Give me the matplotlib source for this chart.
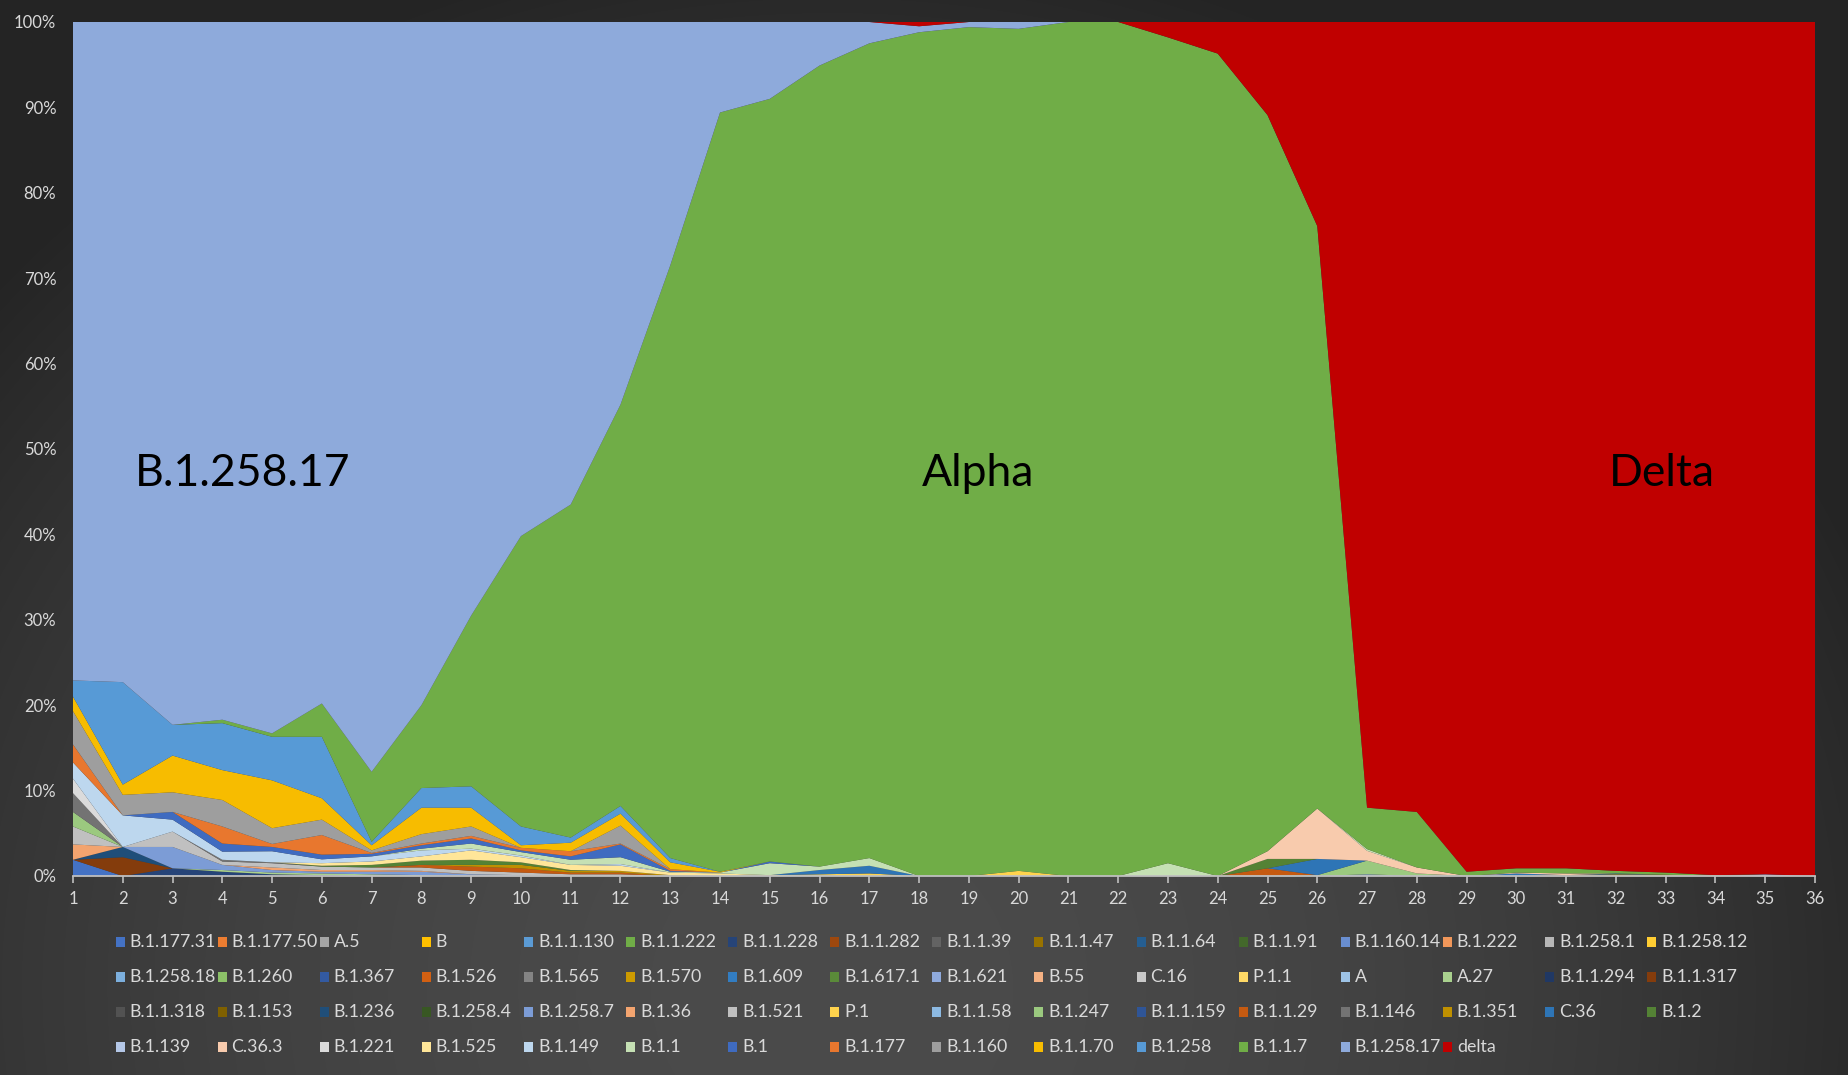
import numpy as np
import matplotlib
matplotlib.use("Agg")
import matplotlib.pyplot as plt
from matplotlib.patches import Rectangle

plt.rcParams['font.family'] = ['Lato', 'DejaVu Sans']

# ---------------- data (percent share per week) ----------------
weeks = list(range(1, 37))

B_1_177_31 = [1.9, 0, 0, 0, 0, 0, 0, 0, 0, 0,  0, 0, 0, 0, 0, 0, 0, 0, 0, 0,  0, 0, 0, 0, 0, 0, 0, 0, 0, 0,  0, 0, 0, 0, 0, 0]
B_1_177_50 = [0.0] * 36
A_5 = [0.0] * 36
B = [0.0] * 36
B_1_1_130 = [0.0] * 36
B_1_1_222 = [0.0] * 36
B_1_1_228 = [0, 0, 0.9, 0.5, 0.2, 0.1, 0, 0, 0, 0,  0, 0, 0, 0, 0, 0, 0, 0, 0, 0,  0, 0, 0, 0, 0, 0, 0, 0, 0, 0,  0, 0, 0, 0, 0, 0]
B_1_1_282 = [0.0] * 36
B_1_1_39 = [0.0] * 36
B_1_1_47 = [0.0] * 36
B_1_1_64 = [0.0] * 36
B_1_1_91 = [0.0] * 36
B_1_160_14 = [0.0] * 36
B_1_222 = [0.0] * 36
B_1_258_1 = [0.0] * 36
B_1_258_12 = [0.0] * 36
B_1_258_18 = [0.0] * 36
B_1_260 = [0.0] * 36
B_1_367 = [0.0] * 36
B_1_526 = [0.0] * 36
B_1_565 = [0.0] * 36
B_1_570 = [0.0] * 36
B_1_609 = [0.0] * 36
B_1_617_1 = [0.0] * 36
B_1_621 = [0, 0, 0, 0, 0, 0, 0, 0, 0, 0,  0, 0, 0, 0, 0, 0, 0, 0, 0, 0,  0, 0, 0, 0, 0, 0, 0, 0, 0, 0,  0, 0, 0, 0, 0.2, 0]
B_55 = [0.0] * 36
C_16 = [0.0] * 36
P_1_1 = [0.0] * 36
A = [0.0] * 36
A_27 = [0, 0, 0, 0.2, 0.2, 0.2, 0.2, 0.1, 0, 0,  0, 0, 0, 0, 0, 0, 0, 0, 0, 0,  0, 0, 0, 0, 0, 0, 0, 0, 0, 0,  0, 0, 0, 0, 0, 0]
B_1_1_294 = [0.0] * 36
B_1_1_317 = [0, 2.2, 0, 0, 0, 0, 0, 0, 0, 0,  0, 0, 0, 0, 0, 0, 0, 0, 0, 0,  0, 0, 0, 0, 0, 0, 0, 0, 0, 0,  0, 0, 0, 0, 0, 0]
B_1_1_318 = [0.0] * 36
B_1_153 = [0.0] * 36
B_1_236 = [0, 1.2, 0, 0, 0, 0, 0, 0, 0, 0,  0, 0, 0, 0, 0, 0, 0, 0, 0, 0,  0, 0, 0, 0, 0, 0, 0, 0, 0, 0,  0, 0, 0, 0, 0, 0]
B_1_258_4 = [0.0] * 36
B_1_258_7 = [0, 0, 2.5, 0.6, 0.3, 0.2, 0.3, 0.4, 0.2, 0.1,  0, 0, 0, 0, 0, 0, 0, 0, 0, 0,  0, 0, 0, 0, 0, 0, 0.2, 0, 0, 0,  0, 0, 0, 0, 0, 0]
B_1_36 = [1.8, 0, 0, 0, 0.3, 0.2, 0.2, 0.1, 0, 0,  0, 0, 0, 0, 0, 0, 0, 0, 0, 0,  0, 0, 0, 0, 0, 0, 0, 0, 0, 0,  0, 0, 0, 0, 0, 0]
B_1_521 = [2.1, 0, 1.8, 0.4, 0.5, 0.4, 0.3, 0.4, 0.4, 0.3,  0.2, 0.2, 0, 0, 0, 0, 0, 0, 0, 0,  0, 0, 0, 0, 0, 0, 0, 0, 0, 0,  0, 0, 0, 0, 0, 0]
P_1 = [0, 0, 0, 0, 0, 0, 0, 0, 0, 0,  0, 0, 0, 0, 0.1, 0.2, 0.3, 0, 0, 0.6,  0, 0, 0, 0, 0, 0, 0, 0, 0, 0,  0, 0, 0, 0, 0, 0]
B_1_1_58 = [0.0] * 36
B_1_247 = [1.7, 0, 0, 0, 0, 0, 0, 0, 0, 0,  0, 0, 0, 0, 0, 0, 0, 0, 0, 0,  0, 0, 0, 0, 0, 0.1, 1.6, 0.3, 0, 0,  0, 0, 0, 0, 0, 0]
B_1_1_159 = [0.0] * 36
B_1_1_29 = [0, 0, 0, 0, 0, 0, 0, 0.3, 0.5, 0.5,  0.2, 0.2, 0, 0, 0, 0, 0, 0, 0, 0,  0, 0, 0, 0, 0.9, 0, 0, 0, 0, 0,  0.1, 0, 0, 0, 0, 0]
B_1_146 = [2.2, 0, 0, 0.2, 0.1, 0, 0, 0, 0, 0,  0, 0, 0, 0, 0, 0, 0, 0, 0, 0,  0, 0, 0, 0, 0, 0, 0, 0, 0, 0,  0, 0, 0, 0, 0, 0]
B_1_351 = [0, 0, 0, 0, 0, 0, 0, 0, 0.2, 0.4,  0.2, 0.2, 0.1, 0, 0, 0, 0, 0, 0, 0,  0, 0, 0, 0, 0, 0, 0, 0, 0, 0,  0, 0.2, 0.15, 0, 0, 0]
C_36 = [0, 0, 0, 0, 0, 0, 0, 0, 0, 0,  0, 0, 0, 0, 0, 0.5, 0.9, 0, 0, 0,  0, 0, 0, 0, 0, 1.9, 0, 0, 0, 0.3,  0, 0.1, 0, 0, 0, 0]
B_1_2 = [0, 0, 0, 0, 0, 0.1, 0.3, 0.5, 0.6, 0.3,  0.1, 0, 0, 0, 0, 0, 0, 0, 0, 0,  0, 0, 0, 0, 1.1, 0, 0, 0, 0, 0,  0, 0, 0, 0, 0, 0]
B_1_139 = [0.0] * 36
C_36_3 = [0, 0, 0, 0, 0, 0, 0, 0, 0, 0,  0, 0, 0, 0, 0, 0, 0, 0, 0, 0,  0, 0, 0, 0, 0.9, 5.9, 1.15, 0.7, 0, 0.1,  0.2, 0, 0, 0, 0, 0]
B_1_221 = [1.7, 0, 0, 0, 0, 0, 0, 0, 0, 0,  0, 0, 0, 0, 0, 0, 0, 0, 0, 0,  0, 0, 0, 0, 0, 0, 0, 0, 0, 0,  0, 0, 0, 0, 0, 0]
B_1_525 = [0, 0, 0, 0, 0, 0.3, 0.4, 0.5, 1.1, 0.6,  0.6, 0.6, 0.3, 0.3, 0, 0, 0, 0, 0, 0,  0, 0, 0, 0, 0, 0, 0, 0, 0, 0,  0, 0, 0, 0, 0, 0]
B_1_149 = [1.9, 3.7, 1.4, 0.95, 1.3, 0.45, 0.6, 0.7, 0.2, 0.2,  0, 0.2, 0, 0, 0, 0, 0, 0, 0, 0,  0, 0, 0, 0, 0, 0, 0, 0, 0, 0,  0, 0, 0, 0, 0, 0]
B_1_1 = [0, 0, 0, 0, 0, 0, 0, 0.2, 0.6, 0.4,  0.6, 0.8, 0.1, 0.1, 1.4, 0.4, 0.9, 0, 0, 0,  0, 0, 1.5, 0, 0, 0, 0.2, 0, 0, 0,  0, 0, 0, 0, 0, 0]
B_1 = [0, 0, 0.9, 0.95, 0.5, 0.55, 0.3, 0.4, 0.6, 0.2,  0.4, 1.5, 0.1, 0, 0.2, 0, 0, 0, 0, 0,  0, 0, 0, 0, 0, 0, 0, 0, 0, 0,  0, 0, 0, 0, 0, 0]
B_1_177 = [2.1, 0, 0, 2.0, 0.35, 2.3, 0.1, 0.2, 0.3, 0.3,  0.6, 0.1, 0.2, 0, 0, 0, 0, 0, 0, 0,  0, 0, 0, 0, 0, 0, 0, 0, 0, 0,  0, 0, 0, 0, 0, 0]
B_1_160 = [3.9, 2.4, 2.3, 3.1, 1.85, 1.8, 0.3, 1.1, 1.1, 0,  0, 2.1, 0, 0, 0, 0, 0, 0, 0, 0,  0, 0, 0, 0, 0, 0, 0, 0, 0, 0,  0, 0, 0, 0, 0, 0]
B_1_1_70 = [1.7, 1.2, 4.3, 3.5, 5.6, 2.5, 0.6, 3.1, 2.2, 0.3,  1.0, 1.4, 0.8, 0.1, 0, 0, 0, 0, 0, 0,  0, 0, 0, 0, 0, 0, 0, 0, 0, 0,  0, 0, 0, 0, 0, 0]
B_1_258 = [1.9, 12.0, 3.6, 5.5, 5.1, 7.2, 0.4, 2.3, 2.5, 2.2,  0.6, 0.9, 0.5, 0, 0, 0, 0, 0, 0, 0,  0, 0, 0, 0, 0, 0, 0, 0, 0, 0,  0, 0, 0, 0, 0, 0]
B_1_1_7 = [0, 0, 0, 0.4, 0.4, 3.9, 8.2, 9.7, 20.0, 34.0,  39.0, 47.0, 69.4, 88.9, 89.3, 93.8, 95.4, 98.8, 99.4, 98.6,
           100, 100, 96.7, 96.3, 86.2, 68.2, 4.85, 6.5, 0.5, 0.5,  0.6, 0.3, 0.25, 0.1, 0, 0]
B_1_258_17 = [77.1, 77.3, 82.3, 81.7, 83.3, 79.8, 87.8, 80.0, 69.5, 60.2,  56.5, 44.8, 28.5, 10.6, 9.0, 5.1, 2.5, 0.7, 0.6, 0.8,
              0, 0, 0, 0, 0, 0, 0, 0, 0, 0,  0, 0, 0, 0, 0, 0]
delta = [0, 0, 0, 0, 0, 0, 0, 0, 0, 0,  0, 0, 0, 0, 0, 0, 0, 0.5, 0, 0,
         0, 0, 1.8, 3.7, 10.9, 23.9, 92.0, 92.5, 99.5, 99.1,  99.1, 99.4, 99.6, 99.9, 99.8, 100]

names = ["B.1.177.31", "B.1.177.50", "A.5", "B", "B.1.1.130", "B.1.1.222", "B.1.1.228", "B.1.1.282",
         "B.1.1.39", "B.1.1.47", "B.1.1.64", "B.1.1.91", "B.1.160.14", "B.1.222", "B.1.258.1", "B.1.258.12",
         "B.1.258.18", "B.1.260", "B.1.367", "B.1.526", "B.1.565", "B.1.570", "B.1.609", "B.1.617.1",
         "B.1.621", "B.55", "C.16", "P.1.1", "A", "A.27", "B.1.1.294", "B.1.1.317",
         "B.1.1.318", "B.1.153", "B.1.236", "B.1.258.4", "B.1.258.7", "B.1.36", "B.1.521", "P.1",
         "B.1.1.58", "B.1.247", "B.1.1.159", "B.1.1.29", "B.1.146", "B.1.351", "C.36", "B.1.2",
         "B.1.139", "C.36.3", "B.1.221", "B.1.525", "B.1.149", "B.1.1", "B.1", "B.1.177",
         "B.1.160", "B.1.1.70", "B.1.258", "B.1.1.7", "B.1.258.17", "delta"]

series = [B_1_177_31, B_1_177_50, A_5, B, B_1_1_130, B_1_1_222, B_1_1_228, B_1_1_282,
          B_1_1_39, B_1_1_47, B_1_1_64, B_1_1_91, B_1_160_14, B_1_222, B_1_258_1, B_1_258_12,
          B_1_258_18, B_1_260, B_1_367, B_1_526, B_1_565, B_1_570, B_1_609, B_1_617_1,
          B_1_621, B_55, C_16, P_1_1, A, A_27, B_1_1_294, B_1_1_317,
          B_1_1_318, B_1_153, B_1_236, B_1_258_4, B_1_258_7, B_1_36, B_1_521, P_1,
          B_1_1_58, B_1_247, B_1_1_159, B_1_1_29, B_1_146, B_1_351, C_36, B_1_2,
          B_1_139, C_36_3, B_1_221, B_1_525, B_1_149, B_1_1, B_1, B_1_177,
          B_1_160, B_1_1_70, B_1_258, B_1_1_7, B_1_258_17, delta]

colors = ["#4472C4", "#ED7D31", "#A5A5A5", "#FFC000", "#5B9BD5", "#70AD47", "#264478", "#9E480E",
          "#636363", "#997300", "#255E91", "#43682B", "#698ED0", "#F1975A", "#B7B7B7", "#FFCD33",
          "#7CAFDD", "#8CC168", "#335AA1", "#D26012", "#848484", "#CC9A00", "#327DC2", "#5A8A39",
          "#8FAADC", "#F4B183", "#C9C9C9", "#FFD966", "#9DC3E6", "#A9D18E", "#203864", "#843C0C",
          "#525252", "#7F6000", "#1F4E79", "#385723", "#7C9CD6", "#F3A46F", "#C0C0C0", "#FFD34D",
          "#8CB9E2", "#9BC97F", "#2F5597", "#C55A11", "#737373", "#BF9000", "#2E75B6", "#548235",
          "#B4C7E7", "#F8CBAD", "#DBDBDB", "#FFE699", "#BDD7EE", "#C5E0B4", "#3F6BC0", "#E8772E",
          "#9E9E9E", "#F7BC00", "#579AD6", "#70AD47", "#8EAADB", "#C00000"]

annotations = [("B.1.258.17", 4.4), ("Alpha", 19.18), ("Delta", 32.93)]

# ---------------- figure ----------------
W, H = 1848, 1075
fig = plt.figure(figsize=(W / 100, H / 100), dpi=100)

# dark radial background
bg = fig.add_axes([0, 0, 1, 1], zorder=-10)
bg.axis('off')
yy, xx = np.mgrid[0:H, 0:W]
u = (xx - 0.45 * W) / (0.62 * W)
v = (yy - 0.92 * H) / (1.0 * H)
r2 = u ** 2 + v ** 2
c = np.clip(75 - 40 * r2, 36, 75) / 255.0
bg.imshow(np.dstack([c, c, c]), extent=[0, 1, 0, 1], aspect='auto', interpolation='bilinear')
bg.set_xlim(0, 1)
bg.set_ylim(0, 1)

ax = fig.add_axes([73 / W, 1 - 876 / H, (1815 - 73) / W, (876 - 22) / H])
ax.set_facecolor('none')

x = np.array(weeks, dtype=float)
vals = np.array(series, dtype=float)
pct = vals / vals.sum(axis=0) * 100.0
ax.stackplot(x, pct, colors=colors, linewidth=0, antialiased=True)

ax.set_xlim(1, 36)
ax.set_ylim(0, 100)
ax.set_xticks(weeks)
ax.set_xticklabels([str(w) for w in weeks])
ax.set_yticks(np.arange(0, 101, 10))
ax.set_yticklabels([f"{t}%" for t in range(0, 101, 10)])
for s in ['top', 'right', 'left']:
    ax.spines[s].set_visible(False)
ax.spines['bottom'].set_color('#bfbfbf')
ax.spines['bottom'].set_linewidth(1.3)
ax.tick_params(axis='x', direction='out', length=5, width=1.2, color='#bfbfbf',
               labelcolor='#d9d9d9', labelsize=12, pad=6)
ax.tick_params(axis='y', length=0, labelcolor='#d9d9d9', labelsize=12, pad=12)

for txt, xpos in annotations:
    ax.text(xpos, 47.1, txt, ha='center', va='center', fontsize=32, color='black')

# legend laid out in the fixed grid used by the original
row_y = [941.7, 977.0, 1012.0, 1046.8]
for i, (nm, col) in enumerate(zip(names, colors)):
    r, k = divmod(i, 16)
    cx = 120 + 102.1 * k
    cy = row_y[r]
    fig.patches.append(Rectangle(((cx - 4.5) / W, 1 - (cy + 5) / H), 9 / W, 10 / H,
                                 transform=fig.transFigure, facecolor=col, edgecolor='none'))
    fig.text((cx + 9.5) / W, 1 - cy / H, nm, ha='left', va='center', fontsize=12.8, color='#d9d9d9')

fig.savefig("out.png", dpi=100)
